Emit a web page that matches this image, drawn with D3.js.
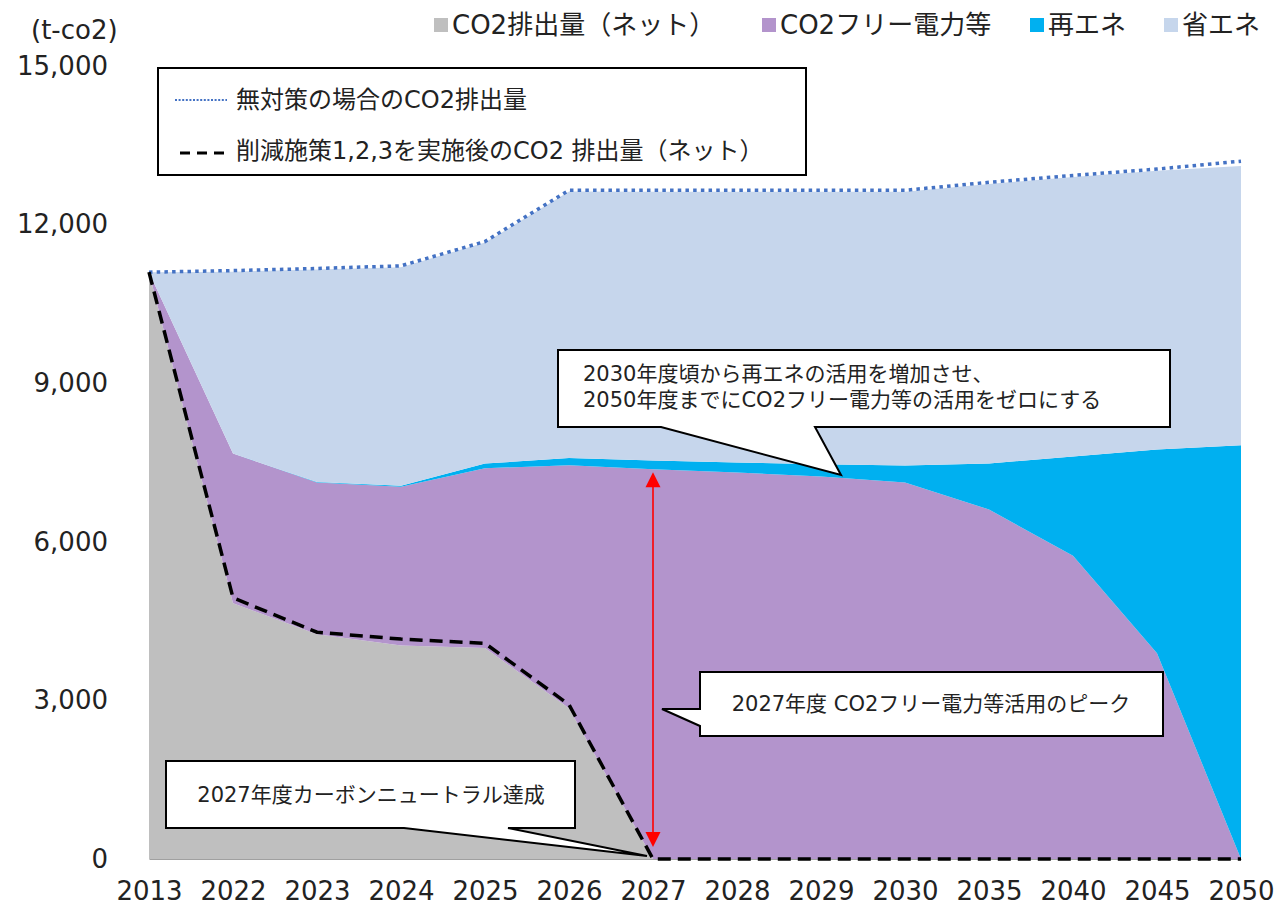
<!DOCTYPE html>
<html>
<head>
<meta charset="utf-8" />
<title>CO2排出量の推移</title>
<script src="https://d3js.org/d3.v7.min.js"></script>
<style>
    body { margin: 0; background: #fff; }
    svg { display: block; }
    text { fill: #222; font-family: "DejaVu Sans", "Noto Sans CJK JP", sans-serif; }
</style>
</head>
<body>
<div id="holder"></div>
<script>
    //Data (t-co2)
    const years = ["2013", "2022", "2023", "2024", "2025", "2026", "2027", "2028", "2029", "2030", "2035", "2040", "2045", "2050"];
    const netCO2 = [11100, 4840, 4250, 4040, 3990, 2850, 0, 0, 0, 0, 0, 0, 0, 0];
    const co2Free = [0, 2830, 2870, 3000, 3400, 4600, 7370, 7310, 7235, 7120, 6610, 5735, 3893, 0];
    const renewable = [0, 0, 10, 20, 90, 135, 170, 190, 230, 325, 870, 1880, 3855, 7825];
    const saving = [0, 3440, 4020, 4135, 4180, 5040, 5080, 5120, 5155, 5175, 5290, 5285, 5270, 5285];
    const noMeasure = [11100, 11130, 11170, 11220, 11680, 12650, 12650, 12650, 12650, 12650, 12800, 12930, 13050, 13200];
    const afterMeasure = [11100, 4940, 4290, 4160, 4080, 2920, 0, 0, 0, 0, 0, 0, 0, 0];
    const yTicks = [0, 3000, 6000, 9000, 12000, 15000];

    const seriesNames = ["CO2排出量（ネット）", "CO2フリー電力等", "再エネ", "省エネ"];
    const seriesKeys = ["net", "free", "re", "save"];
    const colors = ["#BFBFBF", "#B394CC", "#00B0F0", "#C6D6EC"];

    const w = 1280;
    const h = 906;
    const plotLeft = 149, plotRight = 1241, plotTop = 66, plotBottom = 859;

    const rows = years.map((y, i) => ({
        year: y,
        net: netCO2[i],
        free: co2Free[i],
        re: renewable[i],
        save: saving[i]
    }));

    const xScale = d3.scalePoint().domain(years).range([plotLeft, plotRight]);
    const yScale = d3.scaleLinear().domain([0, 15000]).range([plotBottom, plotTop]);

    const svg = d3.select("#holder")
        .append("svg")
        .attr("width", w)
        .attr("height", h);

    //Stacked areas
    const stacked = d3.stack().keys(seriesKeys)(rows);
    const area = d3.area()
        .x(d => xScale(d.data.year))
        .y0(d => yScale(d[0]))
        .y1(d => yScale(d[1]));

    svg.append("g")
        .selectAll("path")
        .data(stacked)
        .enter()
        .append("path")
        .attr("d", area)
        .attr("fill", (d, i) => colors[i]);

    //Axes
    const xAxis = d3.axisBottom(xScale).tickSize(0).tickPadding(23);
    const gx = svg.append("g")
        .attr("transform", "translate(0," + plotBottom + ")")
        .call(xAxis);
    gx.select(".domain").attr("stroke", "#A0A0A0").attr("stroke-width", 1.2);
    gx.selectAll("text").style("font-size", "26px").style("font-family", "DejaVu Sans").attr("fill", "#222");

    const yAxis = d3.axisLeft(yScale).tickValues(yTicks).tickSize(0).tickPadding(41).tickFormat(d3.format(","));
    const gy = svg.append("g")
        .attr("transform", "translate(" + plotLeft + ",0)")
        .call(yAxis);
    gy.select(".domain").remove();
    gy.selectAll("text").style("font-size", "26px").style("font-family", "DejaVu Sans").attr("fill", "#222");

    svg.append("text")
        .attr("x", 31)
        .attr("y", 39)
        .style("font-size", "26px")
        .text("(t-co2)");

    //Lines
    const line = d3.line()
        .x((d, i) => xScale(years[i]))
        .y(d => yScale(d));

    svg.append("path")
        .attr("d", line(noMeasure))
        .attr("fill", "none")
        .attr("stroke", "#4472C4")
        .attr("stroke-width", 3.5)
        .attr("stroke-dasharray", "3.5,4.2");

    svg.append("path")
        .attr("d", line(afterMeasure))
        .attr("fill", "none")
        .attr("stroke", "#000")
        .attr("stroke-width", 3.5)
        .attr("stroke-dasharray", "13,7");

    //Top legend
    const legendX = [434, 762, 1030, 1164];
    const lg = svg.append("g");
    seriesNames.forEach((name, i) => {
        lg.append("rect")
            .attr("x", legendX[i])
            .attr("y", 18)
            .attr("width", 14)
            .attr("height", 14)
            .attr("fill", colors[i]);
        lg.append("text")
            .attr("x", legendX[i] + 18)
            .attr("y", 25)
            .attr("dominant-baseline", "central")
            .style("font-size", "26px")
            .text(name);
    });

    //Line legend box
    svg.append("rect")
        .attr("x", 158)
        .attr("y", 68)
        .attr("width", 648)
        .attr("height", 107)
        .attr("fill", "#fff")
        .attr("stroke", "#000")
        .attr("stroke-width", 2);

    svg.append("line")
        .attr("x1", 175).attr("x2", 227)
        .attr("y1", 100).attr("y2", 100)
        .attr("stroke", "#4472C4")
        .attr("stroke-width", 2)
        .attr("stroke-dasharray", "2,1.6");
    svg.append("text")
        .attr("x", 236)
        .attr("y", 100)
        .attr("dominant-baseline", "central")
        .style("font-size", "24px")
        .text("無対策の場合のCO2排出量");

    svg.append("line")
        .attr("x1", 180).attr("x2", 224)
        .attr("y1", 153).attr("y2", 153)
        .attr("stroke", "#000")
        .attr("stroke-width", 3)
        .attr("stroke-dasharray", "10,7");
    svg.append("text")
        .attr("x", 236)
        .attr("y", 151)
        .attr("dominant-baseline", "central")
        .style("font-size", "24px")
        .text("削減施策1,2,3を実施後のCO2 排出量（ネット）");

    //Red double arrow at 2027
    const ax = xScale("2027");
    const aTop = yScale(co2Free[6]) + 3;
    const aBot = yScale(0) - 12;
    svg.append("line")
        .attr("x1", ax).attr("x2", ax)
        .attr("y1", aTop + 14).attr("y2", aBot - 14)
        .attr("stroke", "#FF0000")
        .attr("stroke-width", 1.6);
    svg.append("path")
        .attr("d", "M" + ax + "," + aTop + " l7.5,15 h-15 z")
        .attr("fill", "#FF0000");
    svg.append("path")
        .attr("d", "M" + ax + "," + aBot + " l7.5,-15 h-15 z")
        .attr("fill", "#FF0000");

    //Callouts
    const callouts = [
        { d: "M558,350 H1170 V427 H815 L841,475 L661,427 H558 Z",
          lines: ["2030年度頃から再エネの活用を増加させ、", "2050年度までにCO2フリー電力等の活用をゼロにする"],
          x: 583, y: [374, 400], anchor: "start" },
        { d: "M700,672 H1163 V736 H700 V726 L662,709 H700 Z",
          lines: ["2027年度 CO2フリー電力等活用のピーク"],
          x: 931, y: [704], anchor: "middle" },
        { d: "M166,761 H575 V828 H508 L647,856 L404,828 H166 Z",
          lines: ["2027年度カーボンニュートラル達成"],
          x: 371, y: [795], anchor: "middle" }
    ];

    callouts.forEach(c => {
        svg.append("path")
            .attr("d", c.d)
            .attr("fill", "#fff")
            .attr("stroke", "#000")
            .attr("stroke-width", 2)
            .attr("stroke-linejoin", "miter");
        c.lines.forEach((t, i) => {
            svg.append("text")
                .attr("x", c.x)
                .attr("y", c.y[i])
                .attr("text-anchor", c.anchor)
                .attr("dominant-baseline", "central")
                .style("font-size", "21px")
                .text(t);
        });
    });
</script>
</body>
</html>
